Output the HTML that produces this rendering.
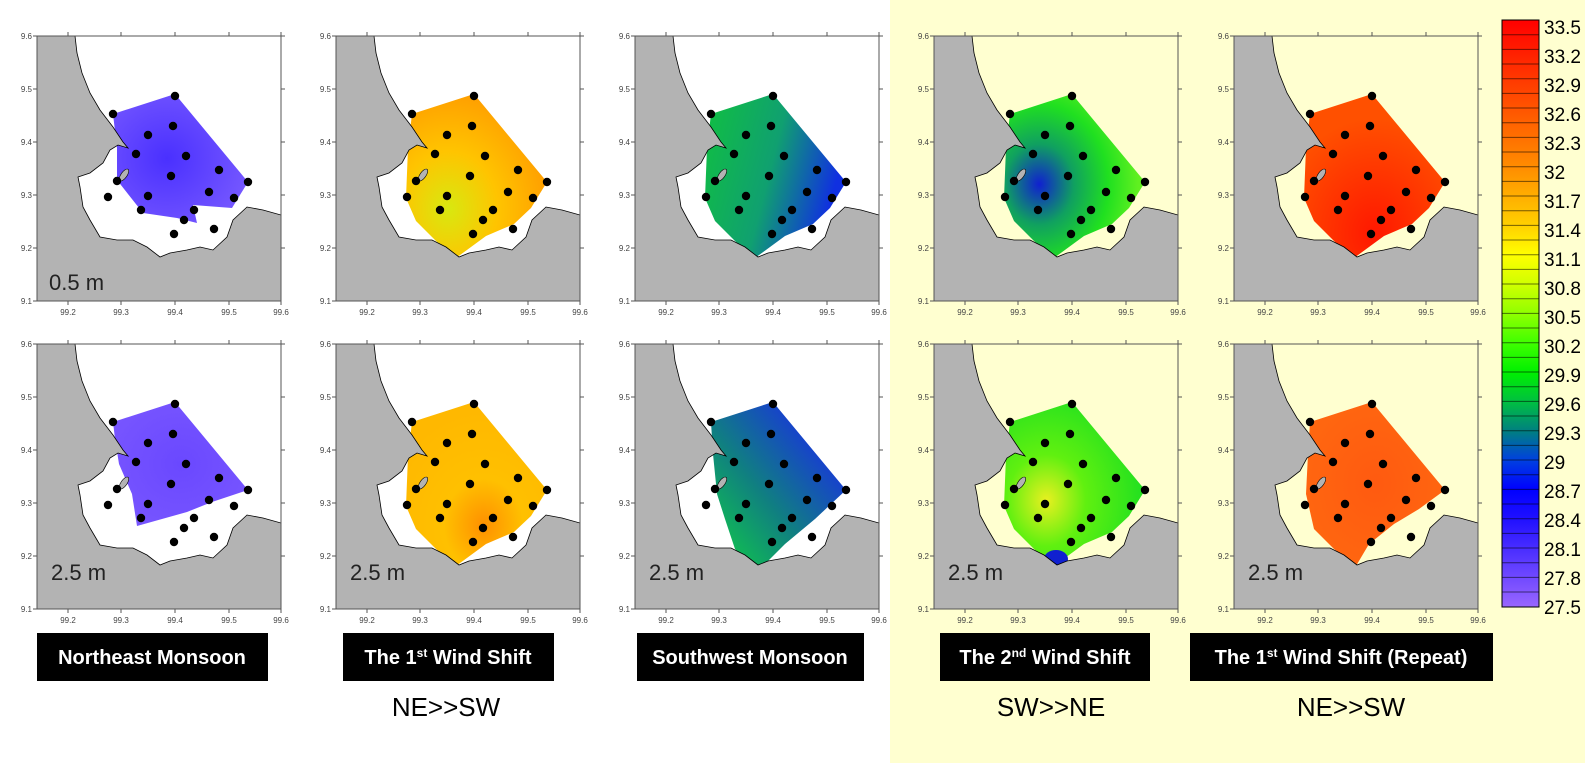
<!DOCTYPE html>
<html><head><meta charset="utf-8"><style>
html,body{margin:0;padding:0;background:#fff;}
svg{display:block;font-family:"Liberation Sans",sans-serif;}
.yl{font-size:8px;fill:#444;text-anchor:end;}
.xl{font-size:8px;fill:#444;text-anchor:middle;}
.dp{font-size:22px;fill:#222;}
.bx{font-family:"Liberation Sans Narrow","Liberation Sans",sans-serif;font-weight:bold;font-size:20px;fill:#fff;text-anchor:middle;}
.dir{font-size:26px;fill:#000;text-anchor:middle;}
.cb{font-size:19px;fill:#000;}
</style></head><body>
<svg width="1585" height="763" viewBox="0 0 1585 763" xmlns="http://www.w3.org/2000/svg">
<defs>
<path id="land" d="M0,0 L38,0 L40,17 L45,37 L53,57 L63,74 L76,91 L86,106 L91,112 L81,109 L73,114 L66,127 L53,137 L41,141 L43,151 L46,171 L53,184 L63,201 L80,204 L96,204 L110,211 L123,221 L133,217 L150,214 L163,211 L176,214 L190,201 L196,184 L210,171 L226,174 L244,179 L244,265 L0,265 Z" fill="#b3b3b3" stroke="#000" stroke-width="0.8"/>
<polygon id="poly" points="76,78 138,58 211,146 195,172 178,188 150,200 120,222 100,205 80,185 70,162 72,112"/>
<g id="dots" fill="#000">
<circle cx="76" cy="78" r="4.2"/><circle cx="138" cy="60" r="4.2"/><circle cx="136" cy="90" r="4.2"/><circle cx="111" cy="99" r="4.2"/><circle cx="99" cy="118" r="4.2"/><circle cx="149" cy="120" r="4.2"/><circle cx="182" cy="134" r="4.2"/><circle cx="211" cy="146" r="4.2"/><circle cx="134" cy="140" r="4.2"/><circle cx="80" cy="145" r="4.2"/><circle cx="111" cy="160" r="4.2"/><circle cx="172" cy="156" r="4.2"/><circle cx="71" cy="161" r="4.2"/><circle cx="104" cy="174" r="4.2"/><circle cx="157" cy="174" r="4.2"/><circle cx="147" cy="184" r="4.2"/><circle cx="177" cy="193" r="4.2"/><circle cx="197" cy="162" r="4.2"/><circle cx="137" cy="198" r="4.2"/>
</g>
<g id="frame" fill="none" stroke="#555" stroke-width="1">
<rect x="0" y="0" width="244" height="265"/>
<path d="M31,0v-4M84,0v-4M138,0v-4M192,0v-4M244,0v-4M31,265v4M84,265v4M138,265v4M192,265v4M244,265v4M0,0h-4M0,53h-4M0,106h-4M0,159h-4M0,212h-4M0,265h-4M244,53h4M244,106h4M244,159h4M244,212h4M244,0h4"/>
</g>
<radialGradient id="g1a" cx="0.4" cy="0.5" r="0.7"><stop offset="0" stop-color="#4a30ff"/><stop offset="1" stop-color="#7a5cff"/></radialGradient>
<radialGradient id="g1b" cx="0.5" cy="0.5" r="0.7"><stop offset="0" stop-color="#6a48ff"/><stop offset="1" stop-color="#7a58ff"/></radialGradient>
<radialGradient id="g2a" cx="0.3" cy="0.7" r="0.7"><stop offset="0" stop-color="#d8e810"/><stop offset="0.5" stop-color="#ffc400"/><stop offset="1" stop-color="#ffa000"/></radialGradient>
<radialGradient id="g2b" cx="0.55" cy="0.75" r="0.7"><stop offset="0" stop-color="#ff9000"/><stop offset="0.4" stop-color="#ffc000"/><stop offset="1" stop-color="#ffb800"/></radialGradient>
<linearGradient id="g3a" x1="0" y1="0" x2="1" y2="0.3"><stop offset="0" stop-color="#10c040"/><stop offset="0.55" stop-color="#10a070"/><stop offset="1" stop-color="#1030e0"/></linearGradient>
<linearGradient id="g3b" x1="0.2" y1="1" x2="0.9" y2="0.3"><stop offset="0" stop-color="#10c050"/><stop offset="0.45" stop-color="#108080"/><stop offset="1" stop-color="#1838d8"/></linearGradient>
<radialGradient id="g4a" cx="0.25" cy="0.55" r="0.7"><stop offset="0" stop-color="#1020d0"/><stop offset="0.35" stop-color="#10a060"/><stop offset="0.7" stop-color="#20e020"/><stop offset="1" stop-color="#60f020"/></radialGradient>
<radialGradient id="g4b" cx="0.3" cy="0.6" r="0.7"><stop offset="0" stop-color="#e8f020"/><stop offset="0.4" stop-color="#60f010"/><stop offset="1" stop-color="#20e020"/></radialGradient>
<radialGradient id="g5a" cx="0.5" cy="0.85" r="0.7"><stop offset="0" stop-color="#ff1800"/><stop offset="1" stop-color="#ff5000"/></radialGradient>
<radialGradient id="g5b" cx="0.5" cy="0.5" r="0.7"><stop offset="0" stop-color="#ff5a10"/><stop offset="1" stop-color="#ff6a10"/></radialGradient>
<linearGradient id="cbg" x1="0" y1="0" x2="0" y2="1">
<stop offset="0" stop-color="#ff0000"/><stop offset="0.25" stop-color="#ff8c00"/><stop offset="0.35" stop-color="#ffd000"/><stop offset="0.4" stop-color="#ffff00"/><stop offset="0.45" stop-color="#d0ff00"/><stop offset="0.5" stop-color="#90ff00"/><stop offset="0.55" stop-color="#40ff00"/><stop offset="0.6" stop-color="#00f000"/><stop offset="0.65" stop-color="#00c040"/><stop offset="0.7" stop-color="#008080"/><stop offset="0.75" stop-color="#0040e0"/><stop offset="0.8" stop-color="#0000ff"/><stop offset="0.85" stop-color="#2010ff"/><stop offset="1" stop-color="#9966ff"/>
</linearGradient>
</defs>

<rect x="890" y="0" width="695" height="763" fill="#ffffd0"/>

<!-- Row 1 -->
<g transform="translate(37,36)">
<rect width="244" height="265" fill="#fff"/>
<polygon points="76,78 138,58 211,146 195,172 156,169 160,187 140,182 106,177 80,144 80,112" fill="url(#g1a)"/>
<use href="#land"/><ellipse cx="87" cy="139" rx="3" ry="7" transform="rotate(35 87 139)" fill="#b3b3b3" stroke="#000" stroke-width="0.6"/>
<use href="#dots"/><use href="#frame"/>
<text class="yl" x="-5" y="3">9.6</text><text class="yl" x="-5" y="56">9.5</text><text class="yl" x="-5" y="109">9.4</text><text class="yl" x="-5" y="162">9.3</text><text class="yl" x="-5" y="215">9.2</text><text class="yl" x="-5" y="268">9.1</text>
<text class="xl" x="31" y="279">99.2</text><text class="xl" x="84" y="279">99.3</text><text class="xl" x="138" y="279">99.4</text><text class="xl" x="192" y="279">99.5</text><text class="xl" x="244" y="279">99.6</text>
<text class="dp" x="12" y="254">0.5 m</text>
</g>
<g transform="translate(336,36)">
<rect width="244" height="265" fill="#fff"/>
<use href="#poly" fill="url(#g2a)"/>
<use href="#land"/><ellipse cx="87" cy="139" rx="3" ry="7" transform="rotate(35 87 139)" fill="#b3b3b3" stroke="#000" stroke-width="0.6"/>
<use href="#dots"/><use href="#frame"/>
<text class="yl" x="-5" y="3">9.6</text><text class="yl" x="-5" y="56">9.5</text><text class="yl" x="-5" y="109">9.4</text><text class="yl" x="-5" y="162">9.3</text><text class="yl" x="-5" y="215">9.2</text><text class="yl" x="-5" y="268">9.1</text>
<text class="xl" x="31" y="279">99.2</text><text class="xl" x="84" y="279">99.3</text><text class="xl" x="138" y="279">99.4</text><text class="xl" x="192" y="279">99.5</text><text class="xl" x="244" y="279">99.6</text>
</g>
<g transform="translate(635,36)">
<rect width="244" height="265" fill="#fff"/>
<use href="#poly" fill="url(#g3a)"/>
<use href="#land"/><ellipse cx="87" cy="139" rx="3" ry="7" transform="rotate(35 87 139)" fill="#b3b3b3" stroke="#000" stroke-width="0.6"/>
<use href="#dots"/><use href="#frame"/>
<text class="yl" x="-5" y="3">9.6</text><text class="yl" x="-5" y="56">9.5</text><text class="yl" x="-5" y="109">9.4</text><text class="yl" x="-5" y="162">9.3</text><text class="yl" x="-5" y="215">9.2</text><text class="yl" x="-5" y="268">9.1</text>
<text class="xl" x="31" y="279">99.2</text><text class="xl" x="84" y="279">99.3</text><text class="xl" x="138" y="279">99.4</text><text class="xl" x="192" y="279">99.5</text><text class="xl" x="244" y="279">99.6</text>
</g>
<g transform="translate(934,36)">
<rect width="244" height="265" fill="#ffffd0"/>
<use href="#poly" fill="url(#g4a)"/>
<use href="#land"/><ellipse cx="87" cy="139" rx="3" ry="7" transform="rotate(35 87 139)" fill="#b3b3b3" stroke="#000" stroke-width="0.6"/>
<use href="#dots"/><use href="#frame"/>
<text class="yl" x="-5" y="3">9.6</text><text class="yl" x="-5" y="56">9.5</text><text class="yl" x="-5" y="109">9.4</text><text class="yl" x="-5" y="162">9.3</text><text class="yl" x="-5" y="215">9.2</text><text class="yl" x="-5" y="268">9.1</text>
<text class="xl" x="31" y="279">99.2</text><text class="xl" x="84" y="279">99.3</text><text class="xl" x="138" y="279">99.4</text><text class="xl" x="192" y="279">99.5</text><text class="xl" x="244" y="279">99.6</text>
</g>
<g transform="translate(1234,36)">
<rect width="244" height="265" fill="#ffffd0"/>
<use href="#poly" fill="url(#g5a)"/>
<use href="#land"/><ellipse cx="87" cy="139" rx="3" ry="7" transform="rotate(35 87 139)" fill="#b3b3b3" stroke="#000" stroke-width="0.6"/>
<use href="#dots"/><use href="#frame"/>
<text class="yl" x="-5" y="3">9.6</text><text class="yl" x="-5" y="56">9.5</text><text class="yl" x="-5" y="109">9.4</text><text class="yl" x="-5" y="162">9.3</text><text class="yl" x="-5" y="215">9.2</text><text class="yl" x="-5" y="268">9.1</text>
<text class="xl" x="31" y="279">99.2</text><text class="xl" x="84" y="279">99.3</text><text class="xl" x="138" y="279">99.4</text><text class="xl" x="192" y="279">99.5</text><text class="xl" x="244" y="279">99.6</text>
</g>

<!-- Row 2 -->
<g transform="translate(37,344)">
<rect width="244" height="265" fill="#fff"/>
<polygon points="76,78 138,58 211,146 175,158 150,168 100,182 95,150 82,120 78,95" fill="url(#g1b)"/>
<use href="#land"/><ellipse cx="87" cy="139" rx="3" ry="7" transform="rotate(35 87 139)" fill="#b3b3b3" stroke="#000" stroke-width="0.6"/>
<use href="#dots"/><use href="#frame"/>
<text class="yl" x="-5" y="3">9.6</text><text class="yl" x="-5" y="56">9.5</text><text class="yl" x="-5" y="109">9.4</text><text class="yl" x="-5" y="162">9.3</text><text class="yl" x="-5" y="215">9.2</text><text class="yl" x="-5" y="268">9.1</text>
<text class="xl" x="31" y="279">99.2</text><text class="xl" x="84" y="279">99.3</text><text class="xl" x="138" y="279">99.4</text><text class="xl" x="192" y="279">99.5</text><text class="xl" x="244" y="279">99.6</text>
<text class="dp" x="14" y="236">2.5 m</text>
</g>
<g transform="translate(336,344)">
<rect width="244" height="265" fill="#fff"/>
<use href="#poly" fill="url(#g2b)"/>
<use href="#land"/><ellipse cx="87" cy="139" rx="3" ry="7" transform="rotate(35 87 139)" fill="#b3b3b3" stroke="#000" stroke-width="0.6"/>
<use href="#dots"/><use href="#frame"/>
<text class="yl" x="-5" y="3">9.6</text><text class="yl" x="-5" y="56">9.5</text><text class="yl" x="-5" y="109">9.4</text><text class="yl" x="-5" y="162">9.3</text><text class="yl" x="-5" y="215">9.2</text><text class="yl" x="-5" y="268">9.1</text>
<text class="xl" x="31" y="279">99.2</text><text class="xl" x="84" y="279">99.3</text><text class="xl" x="138" y="279">99.4</text><text class="xl" x="192" y="279">99.5</text><text class="xl" x="244" y="279">99.6</text>
<text class="dp" x="14" y="236">2.5 m</text>
</g>
<g transform="translate(635,344)">
<rect width="244" height="265" fill="#fff"/>
<polygon points="76,78 138,58 211,146 180,175 150,200 122,228 100,205 90,175 82,150 78,110" fill="url(#g3b)"/>
<use href="#land"/><ellipse cx="87" cy="139" rx="3" ry="7" transform="rotate(35 87 139)" fill="#b3b3b3" stroke="#000" stroke-width="0.6"/>
<use href="#dots"/><use href="#frame"/>
<text class="yl" x="-5" y="3">9.6</text><text class="yl" x="-5" y="56">9.5</text><text class="yl" x="-5" y="109">9.4</text><text class="yl" x="-5" y="162">9.3</text><text class="yl" x="-5" y="215">9.2</text><text class="yl" x="-5" y="268">9.1</text>
<text class="xl" x="31" y="279">99.2</text><text class="xl" x="84" y="279">99.3</text><text class="xl" x="138" y="279">99.4</text><text class="xl" x="192" y="279">99.5</text><text class="xl" x="244" y="279">99.6</text>
<text class="dp" x="14" y="236">2.5 m</text>
</g>
<g transform="translate(934,344)">
<rect width="244" height="265" fill="#ffffd0"/>
<use href="#poly" fill="url(#g4b)"/>
<ellipse cx="122" cy="215" rx="12" ry="9" fill="#1020d0"/>
<use href="#land"/><ellipse cx="87" cy="139" rx="3" ry="7" transform="rotate(35 87 139)" fill="#b3b3b3" stroke="#000" stroke-width="0.6"/>
<use href="#dots"/><use href="#frame"/>
<text class="yl" x="-5" y="3">9.6</text><text class="yl" x="-5" y="56">9.5</text><text class="yl" x="-5" y="109">9.4</text><text class="yl" x="-5" y="162">9.3</text><text class="yl" x="-5" y="215">9.2</text><text class="yl" x="-5" y="268">9.1</text>
<text class="xl" x="31" y="279">99.2</text><text class="xl" x="84" y="279">99.3</text><text class="xl" x="138" y="279">99.4</text><text class="xl" x="192" y="279">99.5</text><text class="xl" x="244" y="279">99.6</text>
<text class="dp" x="14" y="236">2.5 m</text>
</g>
<g transform="translate(1234,344)">
<rect width="244" height="265" fill="#ffffd0"/>
<polygon points="76,78 138,58 211,146 185,165 160,180 135,200 122,222 100,205 80,185 72,150 74,110" fill="url(#g5b)"/>
<use href="#land"/><ellipse cx="87" cy="139" rx="3" ry="7" transform="rotate(35 87 139)" fill="#b3b3b3" stroke="#000" stroke-width="0.6"/>
<use href="#dots"/><use href="#frame"/>
<text class="yl" x="-5" y="3">9.6</text><text class="yl" x="-5" y="56">9.5</text><text class="yl" x="-5" y="109">9.4</text><text class="yl" x="-5" y="162">9.3</text><text class="yl" x="-5" y="215">9.2</text><text class="yl" x="-5" y="268">9.1</text>
<text class="xl" x="31" y="279">99.2</text><text class="xl" x="84" y="279">99.3</text><text class="xl" x="138" y="279">99.4</text><text class="xl" x="192" y="279">99.5</text><text class="xl" x="244" y="279">99.6</text>
<text class="dp" x="14" y="236">2.5 m</text>
</g>

<!-- Colorbar -->
<rect x="1502" y="20" width="37" height="587" fill="url(#cbg)" stroke="#000" stroke-width="1"/>
<path stroke="#000" stroke-opacity="0.55" stroke-width="1" d="M1502,34.7h37M1502,49.4h37M1502,64h37M1502,78.7h37M1502,93.4h37M1502,108h37M1502,122.8h37M1502,137.4h37M1502,152h37M1502,166.8h37M1502,181.4h37M1502,196h37M1502,210.8h37M1502,225.4h37M1502,240h37M1502,254.8h37M1502,269.4h37M1502,284h37M1502,298.8h37M1502,313.4h37M1502,328h37M1502,342.8h37M1502,357.4h37M1502,372h37M1502,386.8h37M1502,401.4h37M1502,416h37M1502,430.8h37M1502,445.4h37M1502,460h37M1502,474.8h37M1502,489.4h37M1502,504h37M1502,518.8h37M1502,533.4h37M1502,548h37M1502,562.8h37M1502,577.4h37M1502,592h37"/>
<text class="cb" x="1544" y="34">33.5</text><text class="cb" x="1544" y="63">33.2</text><text class="cb" x="1544" y="92">32.9</text><text class="cb" x="1544" y="121">32.6</text><text class="cb" x="1544" y="150">32.3</text><text class="cb" x="1544" y="179">32</text><text class="cb" x="1544" y="208">31.7</text><text class="cb" x="1544" y="237">31.4</text><text class="cb" x="1544" y="266">31.1</text><text class="cb" x="1544" y="295">30.8</text><text class="cb" x="1544" y="324">30.5</text><text class="cb" x="1544" y="353">30.2</text><text class="cb" x="1544" y="382">29.9</text><text class="cb" x="1544" y="411">29.6</text><text class="cb" x="1544" y="440">29.3</text><text class="cb" x="1544" y="469">29</text><text class="cb" x="1544" y="498">28.7</text><text class="cb" x="1544" y="527">28.4</text><text class="cb" x="1544" y="556">28.1</text><text class="cb" x="1544" y="585">27.8</text><text class="cb" x="1544" y="614">27.5</text>

<!-- Labels -->
<rect x="37" y="633" width="231" height="48" fill="#000"/>
<text class="bx" x="152" y="664">Northeast Monsoon</text>
<rect x="343" y="633" width="211" height="48" fill="#000"/>
<text class="bx" x="448" y="664">The 1<tspan font-size="12" dy="-7">st</tspan><tspan dy="7"> Wind Shift</tspan></text>
<rect x="637" y="633" width="227" height="48" fill="#000"/>
<text class="bx" x="750" y="664">Southwest Monsoon</text>
<rect x="940" y="633" width="210" height="48" fill="#000"/>
<text class="bx" x="1045" y="664">The 2<tspan font-size="12" dy="-7">nd</tspan><tspan dy="7"> Wind Shift</tspan></text>
<rect x="1190" y="633" width="303" height="48" fill="#000"/>
<text class="bx" x="1341" y="664">The 1<tspan font-size="12" dy="-7">st</tspan><tspan dy="7"> Wind Shift (Repeat)</tspan></text>
<text class="dir" x="446" y="716">NE&gt;&gt;SW</text>
<text class="dir" x="1051" y="716">SW&gt;&gt;NE</text>
<text class="dir" x="1351" y="716">NE&gt;&gt;SW</text>
</svg>
</body></html>
